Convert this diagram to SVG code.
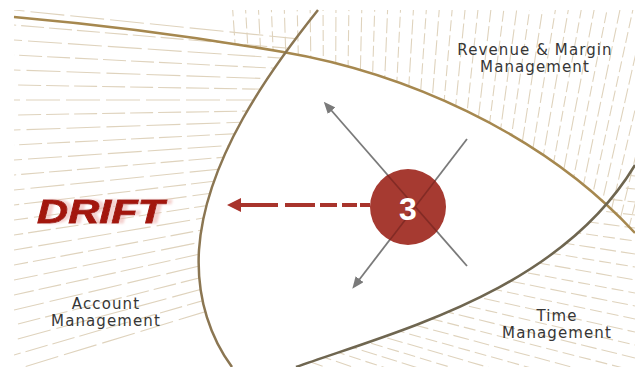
<svg xmlns="http://www.w3.org/2000/svg" width="635" height="367" viewBox="0 0 635 367">
  <style>
    .hatch { fill: none; stroke: #dfd3bd; stroke-width: 1.1; }
    .curve { fill: none; stroke-width: 2.5; }
    .label { font-family: "DejaVu Sans", "Liberation Sans", sans-serif; font-size: 15px; letter-spacing: 1.1px; fill: #363636; text-anchor: middle; }
    .xline { fill: none; stroke: #7a7a7a; stroke-width: 1.8; }
    .xline-in { fill: none; stroke: #832b25; stroke-width: 1.6; }
  </style>
  <defs>
    <clipPath id="clipL"><path d="M14,10 L318,10 C270,70 205,160 199,250 C196,300 212,340 232,367 L14,367 Z"/></clipPath>
    <clipPath id="clipT"><path d="M14,17 Q150,29 283,52 C400,72 540,130 635,233 L635,10 L14,10 Z"/></clipPath>
    <clipPath id="clipB"><path d="M296,367 C400,330 560,290 635,165 L635,367 Z"/></clipPath>
    <clipPath id="clipCircle"><circle cx="408" cy="207" r="38"/></clipPath>
    <filter id="ghost" x="-10%" y="-30%" width="130%" height="160%">
      <feOffset in="SourceAlpha" dx="5" dy="0" result="off"/>
      <feGaussianBlur in="off" stdDeviation="1" result="blur"/>
      <feFlood flood-color="#eeb5b2" flood-opacity="0.6"/>
      <feComposite in2="blur" operator="in" result="pink"/>
      <feMerge>
        <feMergeNode in="pink"/>
        <feMergeNode in="SourceGraphic"/>
      </feMerge>
    </filter>
    <marker id="grayArrow" viewBox="0 0 12 10" refX="1" refY="5" markerWidth="12" markerHeight="10" markerUnits="userSpaceOnUse" orient="auto">
      <path d="M0,0 L12,5 L0,10 Z" fill="#7a7a7a"/>
    </marker>
    <marker id="redArrow" viewBox="0 0 14 14" refX="1" refY="7" markerWidth="14" markerHeight="14" markerUnits="userSpaceOnUse" orient="auto">
      <path d="M0,0 L14,7 L0,14 Z" fill="#a8342c"/>
    </marker>
  </defs>

  <rect x="0" y="0" width="635" height="367" fill="#ffffff"/>

  <!-- Hatching: Account Management region -->
  <g id="hatch-account" clip-path="url(#clipL)">
    <path class="hatch" stroke-dasharray="34 6" d="M900,100 L14,10 M900,100 L14,40 M900,100 L14,70 M900,100 L14,100 M900,100 L14,130 M900,100 L14,160 M900,100 L14,190 M900,100 L14,220 M900,100 L14,250 M900,100 L14,280 M900,100 L14,310 M900,100 L14,340 M900,100 L14,370"/>
    <path class="hatch" stroke-dasharray="23 5" stroke-dashoffset="9" d="M900,100 L14,25 M900,100 L14,55 M900,100 L14,85 M900,100 L14,115 M900,100 L14,145 M900,100 L14,175 M900,100 L14,205 M900,100 L14,235 M900,100 L14,265 M900,100 L14,295 M900,100 L14,325 M900,100 L14,355"/>
  </g>

  <!-- Hatching: Revenue & Margin Management region -->
  <g id="hatch-revenue" clip-path="url(#clipT)">
    <path class="hatch" stroke-dasharray="15 4" d="M330,1400 L232,0 M330,1400 L258,0 M330,1400 L284,0 M330,1400 L310,0 M330,1400 L336,0 M330,1400 L362,0 M330,1400 L388,0 M330,1400 L414,0 M330,1400 L440,0 M330,1400 L466,0 M330,1400 L492,0 M330,1400 L518,0 M330,1400 L544,0 M330,1400 L570,0 M330,1400 L596,0 M330,1400 L622,0 M330,1400 L648,0 M330,1400 L674,0 M330,1400 L700,0"/>
    <path class="hatch" stroke-dasharray="11 4" stroke-dashoffset="6" d="M330,1400 L245,0 M330,1400 L271,0 M330,1400 L297,0 M330,1400 L323,0 M330,1400 L349,0 M330,1400 L375,0 M330,1400 L401,0 M330,1400 L427,0 M330,1400 L453,0 M330,1400 L479,0 M330,1400 L505,0 M330,1400 L531,0 M330,1400 L557,0 M330,1400 L583,0 M330,1400 L609,0 M330,1400 L635,0 M330,1400 L661,0 M330,1400 L687,0"/>
  </g>

  <!-- Hatching: Time Management region -->
  <g id="hatch-time" clip-path="url(#clipB)">
    <path class="hatch" stroke-dasharray="16 5" d="M-500,80 L635,150 M-500,80 L635,176 M-500,80 L635,202 M-500,80 L635,228 M-500,80 L635,254 M-500,80 L635,280 M-500,80 L635,306 M-500,80 L635,332 M-500,80 L635,358 M-500,80 L635,384 M-500,80 L635,410 M-500,80 L635,436 M-500,80 L635,462 M-500,80 L635,488"/>
    <path class="hatch" stroke-dasharray="12 5" stroke-dashoffset="8" d="M-500,80 L635,163 M-500,80 L635,189 M-500,80 L635,215 M-500,80 L635,241 M-500,80 L635,267 M-500,80 L635,293 M-500,80 L635,319 M-500,80 L635,345 M-500,80 L635,371 M-500,80 L635,397 M-500,80 L635,423 M-500,80 L635,449 M-500,80 L635,475"/>
  </g>

  <!-- Region boundaries -->
  <g id="boundaries">
    <path id="curve-revenue" class="curve" stroke="#a6884f" d="M14,17 Q150,29 283,52 C400,72 540,130 635,233"/>
    <path id="curve-account" class="curve" stroke="#8b7652" d="M318,10 C270,70 205,160 199,250 C196,300 212,340 232,367"/>
    <path id="curve-time" class="curve" stroke="#6f6650" d="M296,367 C400,330 560,290 635,165"/>
  </g>

  <!-- Region labels -->
  <g id="node-revenue">
    <text class="label" x="535" y="55">Revenue &amp; Margin</text>
    <text class="label" x="535" y="72">Management</text>
  </g>
  <g id="node-account">
    <text class="label" x="106" y="309">Account</text>
    <text class="label" x="106" y="326">Management</text>
  </g>
  <g id="node-time">
    <text class="label" x="557" y="321">Time</text>
    <text class="label" x="557" y="338">Management</text>
  </g>

  <!-- Connectors -->
  <g id="connectors">
    <path class="xline" d="M467,266 L331,110" marker-end="url(#grayArrow)"/>
    <path class="xline" d="M467,139 L359,280" marker-end="url(#grayArrow)"/>
    <path d="M370,205 L240,205" fill="none" stroke="#a8342c" stroke-width="4" stroke-dasharray="10 3 15 5 17 5 30 7 45" marker-end="url(#redArrow)"/>
  </g>

  <!-- Center node -->
  <g id="node-3">
    <circle cx="408" cy="207" r="38" fill="#a63a31"/>
    <g clip-path="url(#clipCircle)">
      <path class="xline-in" d="M467,266 L328,107"/>
      <path class="xline-in" d="M467,139 L357,283"/>
    </g>
    <text x="408" y="220" font-family="Liberation Sans, Arial, sans-serif" font-weight="bold" font-size="32" fill="#ffffff" text-anchor="middle">3</text>
  </g>

  <!-- DRIFT label -->
  <g id="node-drift">
    <text x="37" y="223" font-family="Liberation Sans, Arial, sans-serif" font-weight="bold" font-style="italic" font-size="34" textLength="127" lengthAdjust="spacingAndGlyphs" fill="#a3180f" stroke="#a3180f" stroke-width="0.8" filter="url(#ghost)">DRIFT</text>
  </g>
</svg>
